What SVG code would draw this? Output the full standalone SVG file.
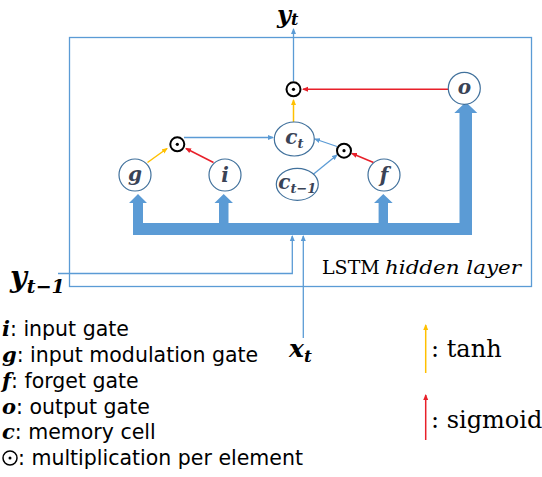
<svg xmlns="http://www.w3.org/2000/svg" width="542" height="477" viewBox="0 0 542 477">
<defs>
<marker id="ab" markerWidth="6" markerHeight="6" refX="5" refY="3" orient="auto" markerUnits="userSpaceOnUse"><path d="M0,0.5 L6,3 L0,5.5 Z" fill="#5b9bd5"/></marker>
<marker id="ar" markerWidth="6" markerHeight="6" refX="5" refY="3" orient="auto" markerUnits="userSpaceOnUse"><path d="M0,0.5 L6,3 L0,5.5 Z" fill="#e8202a"/></marker>
<marker id="ay" markerWidth="6" markerHeight="6" refX="5" refY="3" orient="auto" markerUnits="userSpaceOnUse"><path d="M0,0.5 L6,3 L0,5.5 Z" fill="#ffc000"/></marker>
</defs>
<style>
.node{fill:#fff;stroke:#41719c;stroke-width:1.2}
.lbl{font-family:"DejaVu Serif",serif;font-weight:bold;font-style:italic;font-size:20px;fill:#3a4356;text-anchor:middle}
.math{font-family:"DejaVu Serif",serif;font-weight:bold;font-style:italic;fill:#000}
.od{fill:#fff;stroke:#000;stroke-width:2}
.b{stroke:#5b9bd5;stroke-width:1.3;fill:none}
.r{stroke:#e8202a;stroke-width:1.5;fill:none}
.y{stroke:#ffc000;stroke-width:1.5;fill:none}
.leg{font-family:"DejaVu Sans",sans-serif;font-size:20.5px;fill:#000}
.ser{font-family:"DejaVu Serif",serif;font-size:24px;fill:#000}
</style>
<rect id="lstm-box" x="69.5" y="37.5" width="462" height="249" fill="none" stroke="#5b9bd5" stroke-width="1.3"/>
<path id="bus" d="M133,235 L133,203 L129,203 L138,194 L147,203 L143,203 L143,223 L219,223 L219,203 L214.5,203 L223.7,194 L233,203 L228.5,203 L228.5,223 L378.6,223 L378.6,203 L374,203 L383.3,194 L392.7,203 L388,203 L388,223 L459.5,223 L459.5,113 L454.3,113 L465.8,102 L477.3,113 L472,113 L472,235 Z" fill="#5b9bd5"/>
<g id="connectors">
<line class="y" x1="147.5" y1="162.5" x2="167" y2="148.5" marker-end="url(#ay)"/>
<line class="r" x1="213.5" y1="162.5" x2="186" y2="148.5" marker-end="url(#ar)"/>
<line class="b" x1="184" y1="137.5" x2="273" y2="137.5" marker-end="url(#ab)"/>
<line class="b" x1="313" y1="174.5" x2="337" y2="155" marker-end="url(#ab)"/>
<line class="r" x1="373.5" y1="162.5" x2="352" y2="153.5" marker-end="url(#ar)"/>
<line class="b" x1="337" y1="146.5" x2="315" y2="139" marker-end="url(#ab)"/>
<line class="y" x1="293.5" y1="122" x2="293.5" y2="100" marker-end="url(#ay)"/>
<line class="r" x1="448" y1="89.3" x2="303" y2="89.3" marker-end="url(#ar)"/>
<line class="b" x1="293.5" y1="81" x2="293.5" y2="29" marker-end="url(#ab)"/>
<polyline class="b" points="58,273.5 292.3,273.5 292.3,236" marker-end="url(#ab)"/>
<line class="b" x1="303.3" y1="338" x2="303.3" y2="236" marker-end="url(#ab)"/>
</g>
<g id="node-g"><circle class="node" cx="135" cy="175" r="16"/><text class="lbl" x="135" y="181">g</text></g>
<g id="node-i"><circle class="node" cx="225" cy="175" r="16"/><text class="lbl" x="225" y="182">i</text></g>
<g id="node-f"><circle class="node" cx="384" cy="175" r="16"/><text class="lbl" x="384" y="182">f</text></g>
<g id="node-o"><circle class="node" cx="464.3" cy="88.3" r="16"/><text class="lbl" x="464.3" y="94">o</text></g>
<g id="node-ct"><ellipse class="node" cx="294.3" cy="139" rx="20" ry="17"/><text class="lbl" x="294.3" y="144">c<tspan font-size="13" dy="4">t</tspan></text></g>
<g id="node-ct1"><ellipse class="node" cx="297.3" cy="184.3" rx="21" ry="16"/><text class="lbl" x="297.3" y="189">c<tspan font-size="13" dy="4">t−1</tspan></text></g>
<g id="mul-1"><circle class="od" cx="177.3" cy="144.3" r="7"/><circle cx="177.3" cy="144.3" r="1.6" fill="#000"/></g>
<g id="mul-2"><circle class="od" cx="344" cy="150.7" r="7"/><circle cx="344" cy="150.7" r="1.6" fill="#000"/></g>
<g id="mul-3"><circle class="od" cx="293.5" cy="89.3" r="7"/><circle cx="293.5" cy="89.3" r="1.6" fill="#000"/></g>
<text class="math" x="277" y="23" font-size="24">y<tspan font-size="16" dy="2">t</tspan></text>
<text class="math" x="10" y="287" font-size="29">y<tspan font-size="19" dy="6">t−1</tspan></text>
<text class="math" x="289" y="357" font-size="25">x<tspan font-size="17" dy="5">t</tspan></text>
<text x="322" y="274" font-family="DejaVu Serif,serif" font-size="19" fill="#000"><tspan>LSTM</tspan><tspan x="385" font-style="italic" textLength="136" lengthAdjust="spacingAndGlyphs">hidden layer</tspan></text>
<g id="legend">
<text class="leg" x="2" y="336"><tspan class="math" font-size="21">i</tspan>: input gate</text>
<text class="leg" x="2" y="362"><tspan class="math" font-size="21">g</tspan>: input modulation gate</text>
<text class="leg" x="2" y="388"><tspan class="math" font-size="21">f</tspan>: forget gate</text>
<text class="leg" x="2" y="413.5"><tspan class="math" font-size="21">o</tspan>: output gate</text>
<text class="leg" x="2" y="439"><tspan class="math" font-size="21">c</tspan>: memory cell</text>
<circle cx="10" cy="458" r="7" fill="none" stroke="#000" stroke-width="1.5"/><circle cx="10" cy="458" r="1.5" fill="#000"/>
<text class="leg" x="18" y="465">: multiplication per element</text>
<line class="y" x1="425.7" y1="373" x2="425.7" y2="325" marker-end="url(#ay)"/>
<text class="ser" x="431" y="357">: tanh</text>
<line class="r" x1="425.7" y1="440" x2="425.7" y2="395" marker-end="url(#ar)"/>
<text class="ser" x="431" y="428">: sigmoid</text>
</g>
</svg>
